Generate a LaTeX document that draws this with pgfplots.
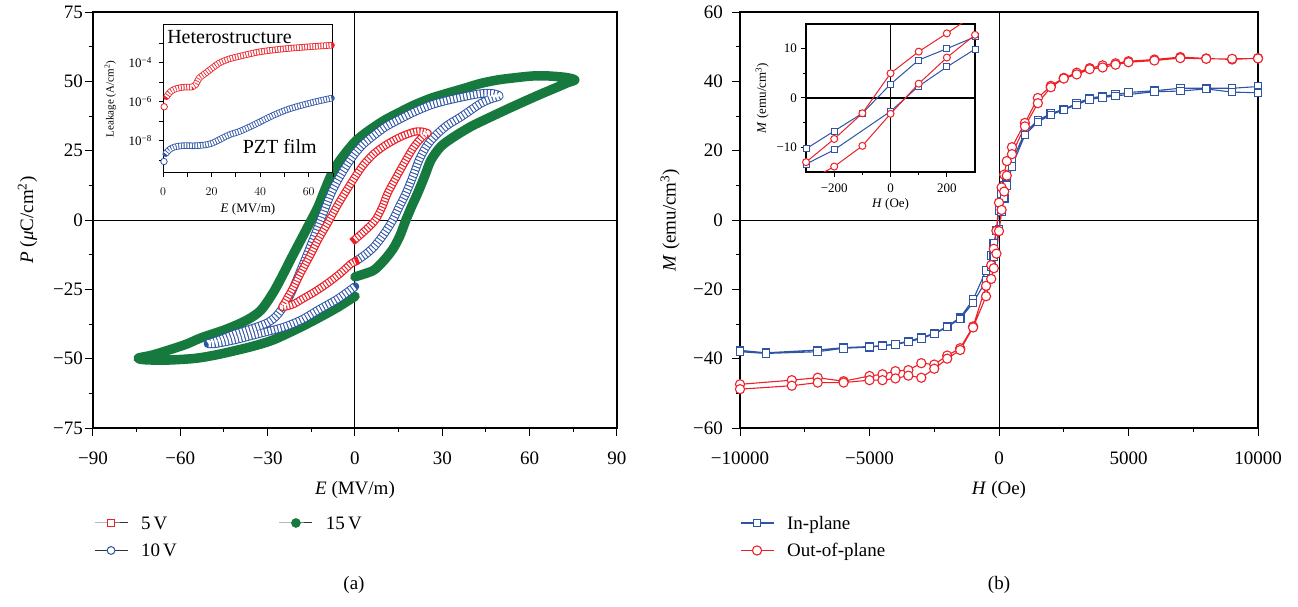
\documentclass[border=0pt]{standalone}
\usepackage{fontspec}
\setmainfont{Liberation Serif}
\usepackage{pgfplots}
\usepackage{pgfplotstable}
\pgfplotsset{compat=1.18}
\definecolor{cred}{RGB}{237,32,40}
\definecolor{cblue}{RGB}{46,84,165}
\definecolor{cgreen}{RGB}{22,122,62}
\newcommand{\fmain}{\fontsize{19}{22}\selectfont}
\newcommand{\fins}{\fontsize{13}{15}\selectfont}

% ---- panel (a) loops: E (MV/m), P (uC/cm2)
\pgfplotstableread{
E P
0 -7
3.5 -3.8
7 0
9.5 5
11.2 9.6
14.5 16
17.5 21.6
20 26
22.1 28.8
24 30.8
25 31.3
22.5 32
20.4 31.8
17.5 30.8
14.7 29.5
10.5 27
6.6 24
3 20
0 15.5
-3 10.5
-5.9 5.5
-9.3 -1
-12.7 -7.2
-15.5 -13
-18.6 -19
-21 -24
-23 -27.7
-24.5 -30.5
-25 -31.4
-23 -31
-21 -30.3
-18.6 -28.8
-14 -26
-9.3 -22.7
-5 -19.2
-1.4 -15.8
0 -15
}\loopfive

\pgfplotstableread{
E P
0 -15
3.5 -12.5
6.6 -9.6
10 -5
13 0
15.3 5
17.5 9.6
20 16
22 21.6
24.5 26.5
27.2 30
31.5 34
36.4 37.2
40 39.8
43.3 42.1
46.5 43.6
49.6 44.7
47.5 45.6
44.4 45.7
41 45.2
37.6 44.5
32 43.2
26.1 41.5
20 38.8
14.7 36
10.5 33.6
6.6 30.6
3 27.5
0 24
-3 19.5
-5.9 14.4
-8.2 9.6
-10.5 3.5
-12.7 -2.5
-15.5 -10
-18.6 -18
-22.5 -27.5
-26.5 -34
-30 -37
-35 -39
-41.6 -41.2
-46 -43
-49.5 -44.2
-50.5 -44.6
-48 -44.6
-41.6 -43.3
-33 -41
-24.4 -38.6
-18 -35.8
-12.7 -32.5
-6 -28.5
0 -24
}\loopten

\pgfplotstableread{
E P
0 -20.5
3 -19.5
6.6 -18
10 -14.5
13 -10.5
15.3 -6
17.5 0
19.5 5
21.5 9.6
24 16
26.1 21.6
29.5 26.5
34 30
40 33.8
46.7 37.2
53 40.3
59.3 43.3
64.5 45.7
69.7 48
73 49.5
75.5 50.5
73 51.3
69.7 51.7
65 52
60.5 51.9
55 51.3
49 50.5
43 49.2
37.6 47.5
32 45.8
26.1 43.9
20 41.3
14.7 38.5
10.5 36.2
6.6 33.6
3 30.9
0 28.2
-3 24.5
-5.9 20.4
-8.2 16.2
-10.5 10.5
-12.7 4.7
-15.5 -1
-18.6 -7.2
-21.5 -13
-24.4 -19
-28 -26
-32.3 -32.5
-37 -36
-44 -39.3
-52.9 -42.5
-58 -44.8
-64.3 -47
-70 -48.8
-74.5 -49.8
-72 -50.4
-64.3 -50.5
-55 -49.9
-48 -48.7
-41.6 -47.2
-35 -45.5
-28 -43.2
-18.6 -38.6
-12 -35
-6 -31.5
0 -27.5
}\loopfifteen

% ---- inset (a): E, log10 of leakage
\pgfplotstableread{
E L
1.4 -5.76
3.2 -5.48
5.2 -5.35
8 -5.27
12.1 -5.25
13.5 -5.13
14.9 -4.8
17.7 -4.53
20.4 -4.27
23.2 -4.02
27.3 -3.81
32.8 -3.64
39.7 -3.45
49.4 -3.3
59 -3.2
69.4 -3.11
}\leakhet

\pgfplotstableread{
E L
1.1 -8.68
2.5 -8.48
4.6 -8.34
8 -8.27
13.5 -8.27
17.7 -8.22
20.4 -8.13
23.2 -7.96
27.3 -7.71
31.4 -7.54
35.6 -7.31
39.7 -7.06
45.2 -6.72
50.8 -6.43
56.3 -6.22
63.2 -6.0
69.4 -5.83
}\leakpzt

% ---- panel (b): H (Oe), M (emu/cm3)
\pgfplotstableread{
H M
10000 38.5
9000 38.0
8000 38.0
7000 38.0
6000 37.3
5000 36.8
4500 36.2
4000 35.7
3500 35.2
3000 33.6
2500 32.0
2000 30.7
1500 28.8
1000 25.2
500 17.0
300 12.4
200 10.0
100 7.7
0 2.8
-100 -3.1
-200 -6.7
-300 -10.3
-500 -14.5
-1000 -23.0
-1500 -28.1
-2000 -30.7
-2500 -32.7
-3000 -33.9
-3500 -34.9
-4000 -35.8
-4500 -36.2
-5000 -36.5
-6000 -36.8
-7000 -37.5
-9000 -38.3
-10000 -37.6
-10000 -38.0
-9000 -38.5
-7000 -38.0
-6000 -37.0
-5000 -36.7
-4500 -36.3
-4000 -35.9
-3500 -35.2
-3000 -34.2
-2500 -32.9
-2000 -30.9
-1500 -28.5
-1000 -23.9
-500 -17.5
-300 -13.4
-200 -10.5
0 -2.7
100 2.4
200 6.3
300 9.9
500 15.5
1000 24.5
1500 28.3
2000 30.3
2500 31.8
3000 33.2
3500 34.8
4000 35.3
4500 35.8
6000 37.0
7000 37.2
8000 37.8
9000 36.9
10000 36.7
}\bluetab

\pgfplotstableread{
H M
10000 46.7
9000 46.3
8000 46.6
7000 47.0
6000 46.3
5000 45.8
4500 45.2
4000 44.6
3500 43.8
3000 42.5
2500 41.0
2000 38.7
1500 35.2
1000 28.0
500 21.0
300 17.0
200 13.1
100 9.4
0 5.0
-100 -3.1
-200 -8.3
-300 -13.0
-500 -19.0
-1000 -30.7
-1500 -37.0
-2000 -39.1
-2500 -41.7
-3000 -41.3
-3500 -43.3
-4000 -43.6
-4500 -44.5
-5000 -45.0
-6000 -46.5
-7000 -45.5
-8000 -46.2
-10000 -47.4
-10000 -48.8
-8000 -47.8
-7000 -46.9
-6000 -46.9
-5000 -46.2
-4500 -46.2
-4000 -45.7
-3500 -44.9
-3000 -45.5
-2500 -42.9
-2000 -40.0
-1500 -37.5
-1000 -31.0
-500 -22.0
-300 -17.0
-200 -13.9
-100 -9.7
0 -3.2
100 2.9
200 8.2
300 12.8
500 19.0
1000 27.0
1500 33.7
2000 38.3
2500 40.8
3000 42.0
3500 43.5
4000 44.0
4500 44.8
5000 45.5
6000 46.0
7000 46.7
8000 46.5
9000 46.5
10000 46.6
}\redtab

\pgfplotsset{
  mystyle/.style={
    scale only axis, clip=false,
    tick align=outside, tick pos=left,
    every tick/.style={black, line width=1pt},
    axis line style={black, line width=1.1pt},
    scaled ticks=false,
  },
  band/.style={forget plot, smooth, line join=round, line cap=round},
  ladder/.style={forget plot, smooth, white, line join=round, line cap=butt},
}

\begin{document}
\begin{tikzpicture}[x=1pt,y=1pt]
\path[use as bounding box] (0,0) rectangle (1298,606);

% ---------------- panel (a) main
\begin{axis}[mystyle,
  at={(93pt,178pt)}, anchor=south west,
  width=524pt, height=416pt,
  xmin=-90, xmax=90, ymin=-75, ymax=75,
  xtick={-90,-60,-30,0,30,60,90},
  xticklabels={−90,−60,−30,0,30,60,90},
  minor xtick={-75,-45,-15,15,45,75},
  ytick={-75,-50,-25,0,25,50,75},
  yticklabels={−75,−50,−25,0,25,50,75},
  minor ytick={-62.5,-37.5,-12.5,12.5,37.5,62.5},
  major tick length=8pt, minor tick length=4pt,
  tick label style={font=\fmain, inner sep=0pt},
  xticklabel style={anchor=center, yshift=-22pt},
  yticklabel style={anchor=east, xshift=-2pt},
  extra x ticks={0}, extra x tick labels={},
  extra y ticks={0}, extra y tick labels={},
  extra tick style={grid=major, major grid style={black, line width=1pt}},
  xlabel={\textit{E} (MV/m)},
  ylabel={\textit{P} (\textit{μ}C/cm\textsuperscript{2})},
  label style={font=\fmain},
  xlabel style={at={(axis description cs:0.5,-0.149)}, anchor=center},
  ylabel style={at={(axis description cs:-0.125,0.5)}, anchor=center},
  legend columns=2,
  legend style={draw=none, fill=none, inner sep=0pt, outer sep=0pt,
    at={(axis description cs:0.002,-0.2127)}, anchor=north west,
    font=\fmain, row sep=14.5pt, cells={anchor=west},
    nodes={inner sep=0pt, text height=13pt, text depth=0pt},
    /tikz/every odd column/.style={column sep=13pt},
    /tikz/every even column/.style={column sep=102pt}},
  legend image code/.code={\draw[mark repeat=2,mark phase=2] plot coordinates {(0pt,0pt) (16.5pt,0pt) (33pt,0pt)};},
]
% 15 V (filled green circles)
\addplot[band, cgreen, line width=9.5pt] table[x=E, y=P] {\loopfifteen};
% 10 V (open blue circles)
\addplot[band, cblue, line width=8.5pt] table[x=E, y=P] {\loopten};
\addplot[ladder, line width=6.5pt, dash pattern=on 2.2pt off 1.2pt] table[x=E, y=P] {\loopten};
% 5 V (open red squares)
\addplot[band, cred, line width=8pt, line cap=rect] table[x=E, y=P] {\loopfive};
\addplot[ladder, line width=5.6pt, dash pattern=on 1.8pt off 1.3pt] table[x=E, y=P] {\loopfive};
\addlegendimage{black!80, line width=1pt, mark=square*, mark size=3.8pt, mark options={draw=cred, fill=white, line width=1pt}}
\addlegendentry{5\,V}
\addlegendimage{black!80, line width=1pt, mark=*, mark size=4.3pt, mark options={draw=cgreen, fill=cgreen}}
\addlegendentry{15\,V}
\addlegendimage{black!80, line width=1pt, mark=*, mark size=3.9pt, mark options={draw=cblue, fill=white, line width=1pt}}
\addlegendentry{10\,V}
\end{axis}

% ---------------- panel (a) inset
\begin{axis}[mystyle,
  at={(163pt,433pt)}, anchor=south west,
  width=170pt, height=148pt,
  axis background/.style={fill=white},
  xmin=0, xmax=70, ymin=-9.67, ymax=-2.07,
  xtick={0,20,40,60}, minor xtick={10,30,50,70},
  ytick={-8,-6,-4},
  yticklabels={10\textsuperscript{−8},10\textsuperscript{−6},10\textsuperscript{−4}},
  minor ytick={-9,-7,-5,-3},
  major tick length=4pt, minor tick length=4pt,
  every tick/.style={black, line width=0.9pt},
  axis line style={black, line width=1pt},
  tick label style={font=\fins, inner sep=0pt},
  xticklabel style={anchor=center, yshift=-15pt},
  yticklabel style={anchor=east, xshift=-7pt},
  xlabel={\textit{E} (MV/m)},
  ylabel={Leakage (A/cm\textsuperscript{2})},
  xlabel style={font=\fins, at={(axis description cs:0.5,-0.243)}, anchor=center},
  ylabel style={font=\fontsize{11}{13}\selectfont, at={(axis description cs:-0.31,0.5)}, anchor=center},
]
\addplot[forget plot, only marks, mark=*, mark size=3.25pt, cred, mark options={line width=0.8pt, fill=white}] coordinates {(0.5,-6.27)};
\addplot[band, cred, line width=6.5pt] table[x=E, y=L] {\leakhet};
\addplot[ladder, line width=4.9pt, dash pattern=on 1.7pt off 1pt] table[x=E, y=L] {\leakhet};
\addplot[forget plot, only marks, mark=*, mark size=3.25pt, cblue, mark options={line width=0.8pt, fill=white}] coordinates {(0.4,-9.08)};
\addplot[band, cblue, line width=6.5pt] table[x=E, y=L] {\leakpzt};
\addplot[ladder, line width=4.9pt, dash pattern=on 1.7pt off 1pt] table[x=E, y=L] {\leakpzt};
\node[anchor=west, font=\fontsize{20}{24}\selectfont, inner sep=0pt] at (axis description cs:0.024,0.919) {Heterostructure};
\node[anchor=east, font=\fontsize{20}{24}\selectfont, inner sep=0pt] at (axis description cs:0.905,0.176) {PZT film};
\end{axis}

% ---------------- panel (b) main
\begin{axis}[mystyle,
  at={(740pt,178pt)}, anchor=south west,
  width=518pt, height=416pt,
  xmin=-10000, xmax=10000, ymin=-60, ymax=60,
  xtick={-10000,-5000,0,5000,10000},
  xticklabels={−10000,−5000,0,5000,10000},
  minor xtick={-7500,-2500,2500,7500},
  ytick={-60,-40,-20,0,20,40,60},
  yticklabels={−60,−40,−20,0,20,40,60},
  minor ytick={-50,-30,-10,10,30,50},
  major tick length=8pt, minor tick length=4pt,
  tick label style={font=\fmain, inner sep=0pt},
  xticklabel style={anchor=center, yshift=-22pt},
  yticklabel style={anchor=east, xshift=-9pt},
  extra x ticks={0}, extra x tick labels={},
  extra y ticks={0}, extra y tick labels={},
  extra tick style={grid=major, major grid style={black, line width=1pt}},
  xlabel={\textit{H} (Oe)},
  ylabel={\textit{M} (emu/cm\textsuperscript{3})},
  label style={font=\fmain},
  xlabel style={at={(axis description cs:0.5,-0.149)}, anchor=center},
  ylabel style={at={(axis description cs:-0.135,0.5)}, anchor=center},
  legend style={draw=none, fill=none, inner sep=0pt, outer sep=0pt,
    at={(axis description cs:0,-0.2127)}, anchor=north west,
    font=\fmain, row sep=14.5pt, cells={anchor=west},
    nodes={inner sep=0pt, text height=13pt, text depth=0pt},
    /tikz/every odd column/.style={column sep=13pt}},
  legend image code/.code={\draw[mark repeat=2,mark phase=2] plot coordinates {(0pt,0pt) (16.5pt,0pt) (33pt,0pt)};},
]
\addplot[cblue, line width=1.1pt, mark=square*, mark size=3.8pt, mark options={draw=cblue, fill=white, line width=1.1pt}] table[x=H, y=M] {\bluetab};
\addlegendentry{In-plane}
\addplot[cred, line width=1.1pt, mark=*, mark size=4.6pt, mark options={draw=cred, fill=white, line width=1.1pt}] table[x=H, y=M] {\redtab};
\addlegendentry{Out-of-plane}
\end{axis}

% ---------------- panel (b) inset
\begin{axis}[mystyle,
  at={(806pt,434pt)}, anchor=south west,
  width=169pt, height=148pt,
  axis background/.style={fill=white},
  clip mode=individual, clip=true,
  xmin=-300, xmax=300, ymin=-15, ymax=15,
  xtick={-200,0,200}, xticklabels={−200,0,200},
  minor xtick={-100,100},
  ytick={-10,0,10}, yticklabels={−10,0,10},
  minor ytick={-5,5},
  major tick length=5pt, minor tick length=3pt,
  every tick/.style={black, line width=1pt},
  axis line style={black, line width=1.4pt},
  tick label style={font=\fins, inner sep=0pt},
  xticklabel style={anchor=center, yshift=-11pt},
  yticklabel style={anchor=east, xshift=-4pt},
  extra x ticks={0}, extra x tick labels={},
  extra y ticks={0}, extra y tick labels={},
  extra tick style={grid=major, major grid style={black, line width=1.4pt}},
  xlabel={\textit{H} (Oe)},
  ylabel={\textit{M} (emu/cm\textsuperscript{3})},
  label style={font=\fins},
  xlabel style={at={(axis description cs:0.5,-0.216)}, anchor=center},
  ylabel style={at={(axis description cs:-0.26,0.5)}, anchor=center},
]
\addplot[forget plot, cblue, line width=1pt, no marks] table[x=H, y=M] {\bluetab};
\addplot[forget plot, cblue, only marks, mark=square*, mark size=3pt, mark options={draw=cblue, fill=white, line width=1pt},
  restrict x to domain=-300:300, restrict y to domain=-15:15] table[x=H, y=M] {\bluetab};
\addplot[forget plot, cred, line width=1pt, no marks] table[x=H, y=M] {\redtab};
\addplot[forget plot, cred, only marks, mark=*, mark size=3.5pt, mark options={draw=cred, fill=white, line width=1pt},
  restrict x to domain=-300:300, restrict y to domain=-15:15] table[x=H, y=M] {\redtab};
\end{axis}

\node[font=\fmain] at (354,21) {(a)};
\node[font=\fmain] at (999,21) {(b)};
\end{tikzpicture}
\end{document}
